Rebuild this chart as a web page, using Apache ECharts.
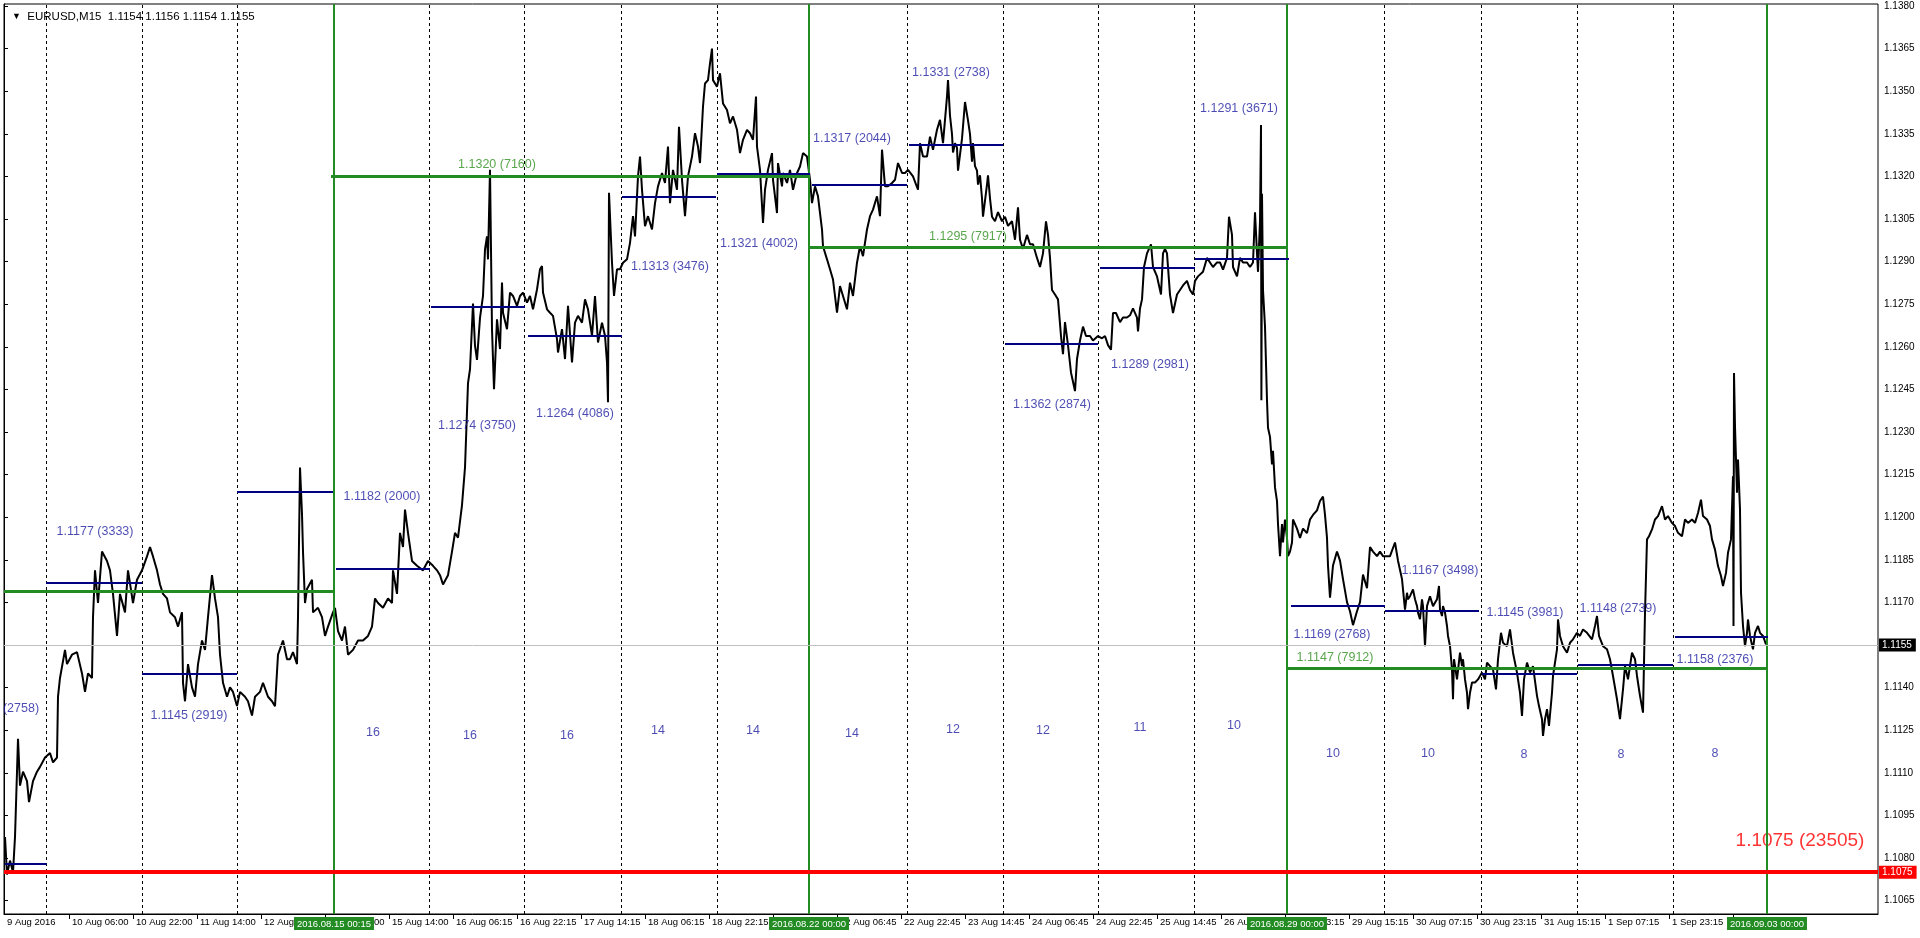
<!DOCTYPE html>
<html>
<head>
<meta charset="utf-8">
<script src="https://cdn.jsdelivr.net/npm/echarts@6/dist/echarts.min.js"></script>
<style>
html,body{margin:0;padding:0;background:#fff;}
#chart{width:1920px;height:938px;}
</style>
</head>
<body>
<div id="chart"></div>
<script>
// ---------------- DATA ----------------
// bar index (M15 bars from 9 Aug 2016 ~13:30) and price
const pricePath = [
[1,1.10874],[3,1.10742],[6,1.10791],[9,1.1075],[11,1.10874],[13,1.11104],[14,1.1122],[16,1.11055],[19,1.11104],[23,1.11071],[25,1.10997],[29,1.11071],[33,1.11104],[36,1.11121],[41,1.11154],[46,1.1117],[49,1.11137],[53,1.11154],[54,1.11368],[56,1.11434],[61,1.11533],[63,1.11483],[68,1.11516],[73,1.11525],[78,1.1145],[81,1.11385],[84,1.1145],[88,1.11434],[89,1.11648],[91,1.11813],[94,1.11698],[98,1.11879],[103,1.11846],[106,1.11813],[109,1.1173],[113,1.11582],[116,1.1173],[121,1.11665],[124,1.11813],[129,1.11698],[133,1.1178],[138,1.11813],[143,1.11862],[146,1.11895],[149,1.11862],[153,1.11813],[156,1.11763],[159,1.1173],[163,1.11714],[166,1.11665],[171,1.11648],[174,1.11615],[178,1.11665],[179,1.11417],[181,1.11352],[184,1.11483],[188,1.11401],[191,1.11368],[194,1.11483],[198,1.11566],[201,1.11533],[204,1.11648],[208,1.11796],[211,1.11714],[214,1.11648],[216,1.11516],[219,1.11417],[223,1.11368],[226,1.11401],[229,1.11385],[233,1.11335],[236,1.11385],[241,1.11368],[244,1.11352],[248,1.11302],[251,1.11368],[256,1.11385],[259,1.11417],[264,1.11368],[268,1.11352],[271,1.11335],[274,1.11516],[279,1.11566],[283,1.115],[286,1.115],[289,1.11525],[293,1.11483],[294,1.11648],[296,1.12175],[298,1.12011],[299,1.11879],[301,1.11698],[303,1.11747],[308,1.1178],[309,1.11665],[314,1.11681],[318,1.11648],[321,1.11582],[324,1.11615],[329,1.11665],[331,1.11681],[334,1.11599],[338,1.11566],[341,1.11615],[344,1.11516],[349,1.11533],[354,1.11566],[359,1.11566],[364,1.11582],[368,1.11615],[371,1.11714],[374,1.11698],[379,1.11681],[384,1.11714],[388,1.11698],[389,1.11813],[393,1.1173],[396,1.11945],[399,1.11895],[401,1.12027],[404,1.11945],[408,1.11846],[413,1.11829],[419,1.11813],[424,1.11846],[429,1.11829],[433,1.11813],[436,1.11796],[439,1.11763],[444,1.11796],[448,1.11879],[451,1.11945],[454,1.11928],[458,1.12043],[461,1.12175],[463,1.12373],[464,1.12472],[466,1.12521],[469,1.12752],[471,1.12604],[473,1.12554],[476,1.12702],
[479,1.12779],[481,1.12943],[483,1.12989],[484,1.12908],[486,1.13223],[488,1.12662],[490,1.12451],[493,1.12697],[496,1.12592],[498,1.12826],[499,1.1272],[503,1.12662],[506,1.12791],[509,1.12779],[513,1.12744],[516,1.12779],[519,1.12791],[523,1.12756],[526,1.12779],[529,1.12732],[533,1.12802],[536,1.12873],[538,1.12884],[539,1.12791],[543,1.12732],[546,1.1272],[549,1.12709],[553,1.12627],[554,1.1258],[558,1.12662],[561,1.12557],[564,1.12744],[568,1.12545],[571,1.12685],[574,1.12709],[578,1.12685],[581,1.12767],[584,1.12732],[588,1.12639],[591,1.12779],[594,1.12615],[598,1.12685],[601,1.12639],[603,1.12545],[604,1.12405],[605,1.13142],[608,1.12896],[610,1.12779],[613,1.12873],[616,1.12873],[619,1.12896],[623,1.12908],[626,1.12966],[629,1.1306],[631,1.12989],[634,1.132],[636,1.1327],[638,1.13153],[641,1.13025],[644,1.1306],[648,1.13013],[651,1.13106],[654,1.13165],[658,1.13212],[661,1.13177],[664,1.13305],[666,1.13106],[669,1.13223],[673,1.13153],[675,1.13375],[678,1.13188],[681,1.1306],[684,1.132],[688,1.1327],[691,1.13352],[694,1.13305],[696,1.13247],[699,1.13446],[701,1.13527],[704,1.13539],[706,1.13598],[708,1.1365],[709,1.13539],[713,1.13516],[716,1.13563],[719,1.13457],[723,1.13434],[726,1.13387],[729,1.13411],[733,1.13364],[736,1.13282],[739,1.13329],[743,1.13364],[746,1.13352],[749,1.13329],[752,1.13481],[753,1.13305],[756,1.13223],[759,1.13036],[761,1.13153],[764,1.13223],[768,1.13282],[769,1.13188],[773,1.13071],[774,1.13247],[778,1.13165],[779,1.13212],[783,1.13177],[786,1.13223],[789,1.13153],[793,1.13212],[796,1.13235],[799,1.13282],[803,1.1327],[806,1.13188],[808,1.13106],[811,1.13165],[814,1.1313],[818,1.13013],[819,1.12954],[823,1.12908],[826,1.12873],[829,1.12837],[833,1.1272],[836,1.12814],[839,1.12779],[843,1.12732],[846,1.12826],[849,1.12779],[853,1.12896],[856,1.12954],[859,1.12919],[863,1.13013],[866,1.1306],[869,1.13083],[873,1.1313],[876,1.1306],[878,1.13294],[881,1.13165],[884,1.13165],[888,1.13177],[891,1.13188],[894,1.13247],[898,1.13212],[901,1.13212],[904,1.13223],[909,1.132],[914,1.13153],[916,1.13317],[919,1.1327],[923,1.1327],[926,1.1334],[929,1.13294],[933,1.13364],[936,1.13399],[939,1.13317],[943,1.13481],[944,1.13539],
[946,1.13414],[948,1.13349],[949,1.13284],[951,1.13317],[953,1.13301],[954,1.1322],[958,1.13333],[961,1.13462],[964,1.13397],[966,1.13349],[968,1.13252],[969,1.13317],[971,1.13236],[973,1.1322],[974,1.13171],[976,1.13204],[978,1.13123],[979,1.13058],[983,1.13171],[984,1.13204],[986,1.13123],[988,1.13058],[991,1.13042],[994,1.13074],[998,1.13042],[1001,1.13058],[1004,1.13026],[1008,1.13042],[1011,1.12977],[1014,1.13091],[1016,1.12977],[1019,1.12945],[1023,1.12994],[1026,1.12961],[1029,1.12961],[1033,1.12913],[1036,1.12881],[1039,1.12929],[1042,1.13042],[1044,1.12994],[1046,1.12913],[1048,1.128],[1051,1.12784],[1054,1.12767],[1057,1.12638],[1059,1.12574],[1061,1.12687],[1064,1.12606],[1067,1.12509],[1069,1.12477],[1071,1.12444],[1073,1.12557],[1076,1.12622],[1079,1.12671],[1082,1.12638],[1086,1.12638],[1089,1.12622],[1094,1.12638],[1098,1.1263],[1101,1.12638],[1104,1.12606],[1107,1.1259],[1109,1.12719],[1112,1.12719],[1116,1.12687],[1119,1.12703],[1123,1.12703],[1126,1.12711],[1129,1.12735],[1133,1.12703],[1134,1.12654],[1136,1.12735],[1138,1.12767],[1140,1.12881],[1143,1.12929],[1147,1.12961],[1149,1.12881],[1153,1.12848],[1154,1.12832],[1157,1.12784],[1159,1.12929],[1161,1.12945],[1163,1.12929],[1166,1.12784],[1169,1.12719],[1173,1.12784],[1176,1.128],[1179,1.12816],[1183,1.12832],[1186,1.128],[1189,1.12784],[1191,1.12832],[1194,1.12848],[1199,1.12864],[1203,1.12913],[1206,1.12897],[1209,1.12881],[1213,1.12897],[1216,1.12897],[1219,1.12872],[1223,1.12913],[1225,1.13058],[1228,1.12994],[1229,1.12881],[1233,1.12848],[1236,1.12913],[1239,1.12897],[1243,1.12897],[1246,1.12881],[1249,1.12897],[1251,1.13074],[1253,1.12929],[1254,1.12864],[1256,1.13042],[1257,1.13381],[1257.4,1.12412],[1258,1.13139],[1259,1.128],[1261,1.12671],[1263,1.12412],[1264,1.12315],[1266,1.12283],[1268,1.12186],[1269,1.12234],[1271,1.12105],[1273,1.12057],[1274,1.11976],[1276,1.11863],[1278,1.11976],[1279,1.11911],[1281,1.11992],[1283,1.11927],[1284,1.11863],[1286,1.11879],[1288,1.11911],[1289,1.11992],[1293,1.1196],[1296,1.11927],[1299,1.1196],[1303,1.11944],[1306,1.11992],[1309,1.12008],[1313,1.12024],[1316,1.12057],[1319,1.12073],[1321,1.12008],[1323,1.11927],[1324,1.1183],[1326,1.11717],[1329,1.1183],[1333,1.11879],[1336,1.11847],[1339,1.11782],[1343,1.11701],[1346,1.11669],[1349,1.1162],[1353,1.11669],[1356,1.11701],[1359,1.11798],[1363,1.1175],[1366,1.11895],[1369,1.11879],[1373,1.11863],[1376,1.11879],[1379,1.11863],[1383,1.11863],[1386,1.11863],[1391,1.11911],[1394,1.11847],[1398,1.11782],
[1399,1.11746],[1401,1.11675],[1403,1.11734],[1404,1.11711],[1406,1.11722],[1409,1.11746],[1411,1.11711],[1413,1.11687],[1414,1.11664],[1416,1.11641],[1418,1.11711],[1419,1.11687],[1421,1.11546],[1423,1.11687],[1426,1.11722],[1429,1.11687],[1433,1.11711],[1435,1.11758],[1436,1.11675],[1438,1.11652],[1439,1.11687],[1441,1.11664],[1443,1.11617],[1444,1.11582],[1446,1.11546],[1448,1.11464],[1449,1.11359],[1450,1.115],[1453,1.11429],[1456,1.11523],[1458,1.11476],[1459,1.115],[1461,1.11429],[1463,1.11382],[1464,1.11324],[1466,1.11382],[1468,1.11418],[1471,1.11418],[1474,1.11429],[1478,1.11453],[1481,1.11429],[1483,1.11488],[1486,1.11476],[1489,1.11464],[1492,1.11394],[1494,1.115],[1497,1.11593],[1499,1.11558],[1503,1.11546],[1506,1.11605],[1509,1.11523],[1513,1.11453],[1516,1.11382],[1518,1.113],[1520,1.11429],[1523,1.11488],[1526,1.11453],[1529,1.11476],[1533,1.11371],[1535,1.11335],[1538,1.11289],[1539,1.1123],[1541,1.11289],[1543,1.11324],[1545,1.11265],[1548,1.11382],[1549,1.11441],[1551,1.11488],[1553,1.11535],[1554,1.1164],[1556,1.11582],[1559,1.11546],[1563,1.11523],[1566,1.11558],[1569,1.1157],[1573,1.11593],[1576,1.11582],[1579,1.11605],[1583,1.11593],[1588,1.1157],[1591,1.11617],[1593,1.11652],[1595,1.11582],[1599,1.11546],[1603,1.11535],[1606,1.115],[1609,1.11441],[1613,1.11359],[1616,1.11289],[1619,1.11394],[1621,1.11476],[1624,1.11429],[1628,1.11523],[1631,1.115],[1633,1.11441],[1636,1.11371],[1639,1.11312],[1641,1.11664],[1642,1.11793],[1643,1.11922],[1645,1.11933],[1648,1.11957],[1651,1.11992],[1654,1.12004],[1658,1.12039],[1661,1.11992],[1664,1.12004],[1668,1.1198],[1671,1.11969],[1674,1.11945],[1678,1.11933],[1681,1.11992],[1684,1.1198],[1688,1.11992],[1691,1.1198],[1694,1.12015],[1697,1.12062],[1699,1.12004],[1703,1.11992],[1706,1.11969],[1708,1.11922],[1711,1.11886],[1714,1.11828],[1717,1.11793],[1719,1.11758],[1722,1.11804],[1724,1.11875],[1727,1.11922],[1729,1.12144],[1729.5,1.11617],[1730,1.12508],[1731,1.1232],[1733,1.12086],[1734,1.12203],[1736,1.12027],[1737,1.11734],[1739,1.11617],[1741,1.11546],[1743,1.11593],[1744,1.1164],[1746,1.11582],[1749,1.11535],[1751,1.11593],[1754,1.11617],[1756,1.11593],[1759,1.11582],[1762,1.11552]
];

// x-axis tick labels (bar index -> text)
const xTickBars = [0,65,129,193,257,321,385,449,513,577,641,705,769,833,897,961,1025,1089,1153,1217,1281,1345,1409,1473,1537,1601,1665,1729];
const xTickLabels = ["9 Aug 2016","10 Aug 06:00","10 Aug 22:00","11 Aug 14:00","12 Aug 06:00","12 Aug 22:00","15 Aug 14:00","16 Aug 06:15","16 Aug 22:15","17 Aug 14:15","18 Aug 06:15","18 Aug 22:15","19 Aug 14:15","22 Aug 06:45","22 Aug 22:45","23 Aug 14:45","24 Aug 06:45","24 Aug 22:45","25 Aug 14:45","26 Aug 06:45","26 Aug 23:15","29 Aug 15:15","30 Aug 07:15","30 Aug 23:15","31 Aug 15:15","1 Sep 07:15","1 Sep 23:15","2 Sep 15:15"];

// y-axis tick labels
const yTickValues = [1.1065,1.1080,1.1095,1.1110,1.1125,1.1140,1.1155,1.1170,1.1185,1.1200,1.1215,1.1230,1.1245,1.1260,1.1275,1.1290,1.1305,1.1320,1.1335,1.1350,1.1365,1.1380];

// period separators (bar index)
const daySeparators = [42,138,233,425,520,617,713,903,999,1094,1190,1380,1477,1573,1669];
const weekSeparators = [330,805,1283,1763];
const weekSeparatorLabels = ["2016.08.15 00:15","2016.08.22 00:00","2016.08.29 00:00","2016.09.03 00:00"];

// daily levels: [price, fromBar, toBar]
const dailyLevels = [
[1.1078,1,43],[1.1177,42,138],[1.1145,138,233],[1.1209,233,329],[1.1182,332,426],[1.1274,427,521],[1.1264,524,618],[1.1313,618,712],[1.1321,713,806],[1.1317,808,903],[1.1331,905,999],[1.1261,1001,1094],[1.1288,1096,1191],[1.1291,1191,1285],[1.1169,1287,1381],[1.1167,1381,1475],[1.1145,1478,1573],[1.1148,1574,1669],[1.1158,1671,1764]
];
// weekly levels: [price, fromBar, toBar]
const weeklyLevels = [[1.1174,0,330],[1.1320,327,805],[1.1295,806,1283],[1.1147,1284,1764]];

// daily level labels: [bar, price, text]
const dailyLabels = [
[17,1.11328,"(2758)"],[91,1.1195,"1.1177 (3333)"],[185,1.1130,"1.1145 (2919)"],[378,1.12072,"1.1182 (2000)"],[473,1.12324,"1.1274 (3750)"],[571,1.12366,"1.1264 (4086)"],[666,1.12882,"1.1313 (3476)"],[755,1.12963,"1.1321 (4002)"],[848,1.13332,"1.1317 (2044)"],[947,1.13567,"1.1331 (2738)"],[1048,1.12396,"1.1362 (2874)"],[1146,1.12538,"1.1289 (2981)"],[1235,1.13438,"1.1291 (3671)"],[1328,1.11588,"1.1169 (2768)"],[1436,1.11813,"1.1167 (3498)"],[1521,1.11664,"1.1145 (3981)"],[1614,1.11678,"1.1148 (2739)"],[1711,1.1150,"1.1158 (2376)"]
];
const weeklyLabels = [[493,1.1324,"1.1320 (7160)"],[964,1.12988,"1.1295 (7917)"],[1331,1.11507,"1.1147 (7912)"]];

// day counts
const dayCounts = [
[369,1.11242,"16"],[466,1.1123,"16"],[563,1.1123,"16"],[654,1.1125,"14"],[749,1.1125,"14"],[848,1.1124,"14"],[949,1.11252,"12"],[1039,1.1125,"12"],[1136,1.1126,"11"],[1230,1.11265,"10"],[1329,1.11168,"10"],[1424,1.11168,"10"],[1520,1.11165,"8"],[1617,1.11165,"8"],[1711,1.11168,"8"]
];

const monthLevel = 1.1075;
const monthLabel = [1796,1.10861,"1.1075 (23505)"];
const currentPrice = 1.1155;
const xStart = 0, xEnd = 1874;

// ---------------- STYLE ----------------
const FONT = 'Liberation Sans, Arial, sans-serif';
const NAVY = '#000080';
const BLUE_TXT = '#1e1ea0';
const GREEN = '#228B22';
const GREEN_TXT = '#2e901e';

const labelMap = {};
xTickBars.forEach((b,i)=>{labelMap[b]=xTickLabels[i];});

const sepLines = [];
daySeparators.forEach(b=>sepLines.push({xAxis:b,lineStyle:{color:'#000',width:1,type:[3,3]}}));
weekSeparators.forEach((b,i)=>sepLines.push({xAxis:b,lineStyle:{color:GREEN,width:2,type:'solid'},
  label:{show:true,position:'start',distance:3,formatter:weekSeparatorLabels[i],color:'#fff',backgroundColor:GREEN,
    padding:[2,3,1,3],fontSize:9.5,fontFamily:FONT}}));
sepLines.push([
  {coord:[xStart,currentPrice],lineStyle:{color:'#c0c0c0',width:1,type:'solid'},
   label:{show:true,position:'end',distance:1,formatter:currentPrice.toFixed(4),color:'#fff',backgroundColor:'#000',padding:[2,4,1,3],fontSize:10,fontFamily:FONT}},
  {coord:[xEnd,currentPrice]}]);

const levelLines = [];
dailyLevels.forEach(d=>levelLines.push([{coord:[d[1],d[0]],lineStyle:{color:NAVY,width:2,type:'solid'}},{coord:[d[2],d[0]]}]));
weeklyLevels.forEach(d=>levelLines.push([{coord:[d[1],d[0]],lineStyle:{color:GREEN,width:3,type:'solid'}},{coord:[d[2],d[0]]}]));
levelLines.push([
  {coord:[xStart,monthLevel],lineStyle:{color:'#ff0000',width:4,type:'solid'},
   label:{show:true,position:'end',distance:1,formatter:monthLevel.toFixed(4),color:'#fff',backgroundColor:'#ff0000',padding:[2,4,1,3],fontSize:10,fontFamily:FONT}},
  {coord:[xEnd,monthLevel]}]);

function textSeries(list,color,size,z){
  return {type:'scatter',z:z,silent:true,animation:false,symbolSize:1,itemStyle:{color:'rgba(0,0,0,0)'},
    data:list.map(d=>({value:[d[0],d[1]],name:d[2]})),
    label:{show:true,position:'inside',formatter:p=>p.name,color:color,fontSize:size,fontFamily:FONT}};
}

const chart = echarts.init(document.getElementById('chart'),null,{renderer:'canvas'});
chart.setOption({
  animation:false,
  backgroundColor:'#fff',
  title:{text:'{t|▼}  EURUSD,M15  1.1154 1.1156 1.1154 1.1155',left:7,top:6,
    textStyle:{fontSize:11.5,fontWeight:'normal',color:'#000',fontFamily:FONT,rich:{t:{fontSize:9,color:'#000'}}}},
  grid:{left:4,right:42,top:4,bottom:24,show:true,borderColor:'#000',borderWidth:1,backgroundColor:'#fff'},
  xAxis:{type:'value',min:xStart,max:xEnd,
    axisLine:{show:true,lineStyle:{color:'#000',width:1}},
    axisTick:{show:true,customValues:xTickBars.slice(1),length:5,lineStyle:{color:'#000'}},
    axisLabel:{customValues:xTickBars,formatter:v=>labelMap[Math.round(v)]||'',align:'left',margin:3,padding:[0,0,0,3],
      fontSize:9.5,color:'#000',fontFamily:FONT},
    splitLine:{show:false}},
  yAxis:{type:'value',position:'right',min:1.10603,max:1.13807,
    axisLine:{show:true,lineStyle:{color:'#000',width:1}},
    axisTick:{show:true,customValues:yTickValues,length:4,lineStyle:{color:'#000'}},
    axisLabel:{customValues:yTickValues,formatter:v=>v.toFixed(4),margin:6,fontSize:10,color:'#000',fontFamily:FONT},
    splitLine:{show:false}},
  series:[
    {type:'line',data:[],z:1,clip:false,silent:true,
      markLine:{silent:true,symbol:['none','none'],animation:false,label:{show:false},data:sepLines}},
    {type:'line',data:pricePath,z:2,showSymbol:false,symbol:'none',silent:true,
      lineStyle:{color:'#000',width:2},itemStyle:{color:'#000'}},
    {type:'line',data:[],z:3,clip:false,silent:true,
      markLine:{silent:true,symbol:['none','none'],animation:false,label:{show:false},data:levelLines}},
    textSeries(dailyLabels,BLUE_TXT,12.5,4),
    textSeries(weeklyLabels,GREEN_TXT,12.5,4),
    textSeries(dayCounts,BLUE_TXT,12.5,4),
    textSeries([monthLabel],'#ff0000',19,4)
  ]
});
</script>
</body>
</html>
